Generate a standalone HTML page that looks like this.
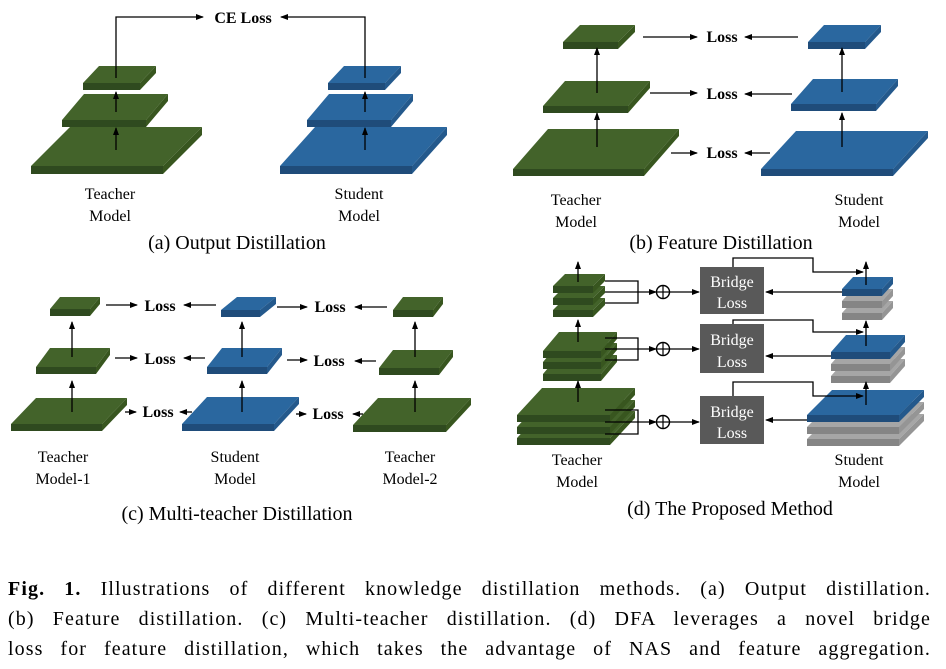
<!DOCTYPE html>
<html><head><meta charset="utf-8">
<style>
html,body{margin:0;padding:0;background:#fff;}
svg{display:block;font-family:"Liberation Serif",serif;}
.cap{position:absolute;left:8px;top:574px;width:923px;font-family:"Liberation Serif",serif;font-size:20px;letter-spacing:1.1px;line-height:30px;color:#000;}
.cap div{text-align:justify;text-align-last:justify;white-space:nowrap;}
</style></head>
<body>
<div style="position:relative;width:946px;height:669px;overflow:hidden">
<svg id="s" width="946" height="669" viewBox="0 0 946 669" xmlns="http://www.w3.org/2000/svg">
<defs><marker id="a" markerWidth="8" markerHeight="8" refX="7" refY="4" orient="auto" markerUnits="userSpaceOnUse"><path d="M0,1 L8,4 L0,7 z" fill="#000"/></marker></defs>
<g id="g"></g>
<g font-size="16" text-anchor="middle" fill="#000">
<text x="243" y="23" font-weight="bold" font-size="16">CE Loss</text>
<text x="110" y="199">Teacher</text><text x="110" y="221">Model</text>
<text x="359" y="199">Student</text><text x="359" y="221">Model</text>
<text x="237" y="249" font-size="20">(a) Output Distillation</text>
<text x="576" y="205">Teacher</text><text x="576" y="227">Model</text>
<text x="859" y="205">Student</text><text x="859" y="227">Model</text>
<text x="721" y="249" font-size="20">(b) Feature Distillation</text>
<text x="63" y="462">Teacher</text><text x="63" y="484">Model-1</text>
<text x="235" y="462">Student</text><text x="235" y="484">Model</text>
<text x="410" y="462">Teacher</text><text x="410" y="484">Model-2</text>
<text x="237" y="520" font-size="20">(c) Multi-teacher Distillation</text>
<text x="577" y="465">Teacher</text><text x="577" y="487">Model</text>
<text x="859" y="465">Student</text><text x="859" y="487">Model</text>
<text x="730" y="515" font-size="20">(d) The Proposed Method</text>
</g>
<g font-size="16" font-weight="bold" text-anchor="middle">
<text x="722" y="42">Loss</text><text x="722" y="99">Loss</text><text x="722" y="158">Loss</text>
<text x="160" y="311">Loss</text><text x="160" y="364">Loss</text><text x="158" y="417">Loss</text>
<text x="330" y="312">Loss</text><text x="329" y="366">Loss</text><text x="328" y="419">Loss</text>
</g>
<g font-size="16" fill="#fff" text-anchor="middle">
<rect x="700" y="267" width="64" height="47" fill="#595959"/>
<rect x="700" y="324" width="64" height="49" fill="#595959"/>
<rect x="700" y="396" width="64" height="48" fill="#595959"/>
<text x="732" y="287">Bridge</text><text x="732" y="308">Loss</text>
<text x="732" y="345">Bridge</text><text x="732" y="367">Loss</text>
<text x="732" y="417">Bridge</text><text x="732" y="438">Loss</text>
</g>
</svg>
<div class="cap">
<div><b>Fig. 1.</b> Illustrations of different knowledge distillation methods. (a) Output distillation.</div>
<div>(b) Feature distillation. (c) Multi-teacher distillation. (d) DFA leverages a novel bridge</div>
<div>loss for feature distillation, which takes the advantage of NAS and feature aggregation.</div>
</div>
</div>
<script>
var out="";
var C={g:["#43632a","#2f4a1f","#38561f"],b:["#2a679f","#1f4c7a","#24598c"],y:["#a6a6a6","#858585","#959595"]};
function slab(x,yf,w,dx,dy,h,c){var k=C[c];
out+='<polygon points="'+x+','+yf+' '+(x+w)+','+yf+' '+(x+w+dx)+','+(yf-dy)+' '+(x+dx)+','+(yf-dy)+'" fill="'+k[0]+'"/>';
out+='<rect x="'+x+'" y="'+yf+'" width="'+w+'" height="'+h+'" fill="'+k[1]+'"/>';
out+='<polygon points="'+(x+w)+','+yf+' '+(x+w+dx)+','+(yf-dy)+' '+(x+w+dx)+','+(yf-dy+h)+' '+(x+w)+','+(yf+h)+'" fill="'+k[2]+'"/>';}
function L(pts,arrow){out+='<polyline points="'+pts+'" fill="none" stroke="#000" stroke-width="1.3"'+(arrow?' marker-end="url(#a)"':'')+'/>';}
slab(31,166,132,39,39,8,'g');slab(62,120,84,22,26,7,'g');slab(83,83,57,16,17,7,'g');
slab(280,166,132,35,39,8,'b');slab(307,120,84,22,26,7,'b');slab(328,83,57,16,17,7,'b');
L("116,150 116,128",1);L("116,112 116,92",1);L("116,78 116,17 203,17",1);
L("365,150 365,128",1);L("365,112 365,92",1);L("365,78 365,17 281,17",1);
slab(513,169,131,35,40,7,'g');slab(543,106,85,22,25,7,'g');slab(563,42,55,17,17,7,'g');
slab(761,169,132,35,38,7,'b');slab(791,104,85,22,25,7,'b');slab(808,42,57,16,17,7,'b');
L("597,147 597,113",1);L("597,93 597,48",1);L("842,147 842,113",1);L("842,92 842,48",1);
L("643,37 697,37",1);L("650,93 697,93",1);L("671,153 697,153",1);
L("798,37 745,37",1);L("792,94 745,94",1);L("770,153 745,153",1);
slab(11,424,91,25,26,7,'g');slab(36,367,60,14,19,7,'g');slab(50,309,40,10,12,7,'g');
slab(182,424,92,25,27,7,'b');slab(207,367,60,15,19,7,'b');slab(221,310,39,16,13,7,'b');
slab(353,425,93,25,27,7,'g');slab(379,368,60,14,18,7,'g');slab(393,310,40,10,13,7,'g');
[72,242,415].forEach(function(x){L(x+",412 "+x+",381",1);L(x+",357 "+x+",322",1);});
L("106,305 137,305",1);L("115,358 137,358",1);L("125,412 136,412",1);
L("216,305 184,305",1);L("205,358 184,358",1);L("192,412 180,412",1);
L("277,307 307,307",1);L("287,360 307,360",1);L("296,414 306,414",1);
L("387,307 355,307",1);L("376,361 355,361",1);L("363,414 353,414",1);
[438,427,415].forEach(function(y){slab(517,y,93,25,27,7,'g');});
[374,362,351].forEach(function(y){slab(543,y,58,16,19,7,'g');});
[310,298,286].forEach(function(y){slab(553,y,40,12,12,7,'g');});
slab(807,439,92,25,25,7,'y');slab(807,427,92,25,25,7,'y');slab(807,415,92,25,25,7,'b');
slab(831,376,59,15,17,7,'y');slab(831,364,59,15,17,7,'y');slab(831,352,59,15,17,7,'b');
slab(842,313,40,11,12,7,'y');slab(842,301,40,11,12,7,'y');slab(842,289,40,11,12,7,'b');
L("578,402 578,381",1);L("578,342 578,320",1);L("578,282 578,262",1);
L("866,405 866,382",1);L("866,346 866,321",1);L("866,285 866,262",1);
[[281,292,303],[338,349,360],[410,422,434]].forEach(function(r){
 L("605,"+r[0]+" 638,"+r[0]+" 638,"+r[2]+" 605,"+r[2]);
 L("605,"+r[1]+" 656,"+r[1],1);
 out+='<circle cx="663" cy="'+r[1]+'" r="6.5" fill="none" stroke="#000" stroke-width="1.4"/><line x1="656.5" y1="'+r[1]+'" x2="669.5" y2="'+r[1]+'" stroke="#000" stroke-width="1.2"/><line x1="663" y1="'+(r[1]-6.5)+'" x2="663" y2="'+(r[1]+6.5)+'" stroke="#000" stroke-width="1.2"/>';
 L("670,"+r[1]+" 699,"+r[1],1);});
L("733,267 733,258 813,258 813,272 863,272",1);
L("733,324 733,320 813,320 813,332 863,332",1);
L("733,396 733,382 813,382 813,396 863,396",1);
L("842,292 766,292",1);L("831,356 766,356",1);L("807,420 766,420",1);
document.getElementById("g").innerHTML=out;
</script>
</body></html>
